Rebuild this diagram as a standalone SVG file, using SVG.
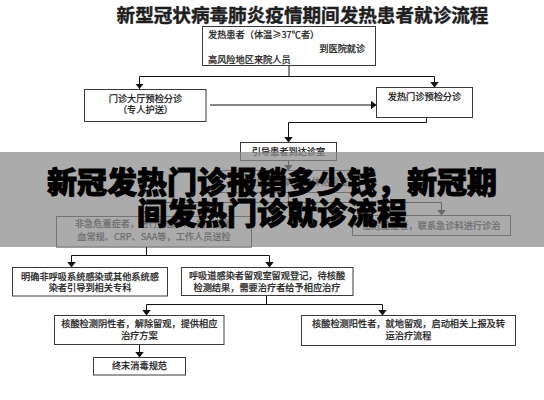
<svg xmlns="http://www.w3.org/2000/svg" width="544" height="400" viewBox="0 0 544 400">
<style>
.bx{fill:#fff;stroke:#3a3a3a;stroke-width:1}
.t{font-family:"Noto Sans CJK SC","Noto Sans",sans-serif;font-size:9.2px;fill:#1a1a1a;stroke:#1a1a1a;stroke-width:0.25}
.c{text-anchor:middle}
.ln{stroke:#111;stroke-width:1;fill:none}
.ar{stroke:#111;stroke-width:1;fill:none;marker-end:url(#ah)}
.title{font-family:"Noto Sans CJK SC","Noto Sans",sans-serif;font-size:18.6px;font-weight:bold;fill:#1e1e1e;stroke:#1e1e1e;stroke-width:0.4;text-anchor:middle}
.big{font-family:"Noto Sans CJK SC","Noto Sans",sans-serif;font-size:30px;font-weight:900;fill:#000;stroke:#000;stroke-width:0.9;text-anchor:middle}
</style>
<defs>
<marker id="ah" viewBox="0 0 10 10" refX="10" refY="5" markerWidth="5.5" markerHeight="8.5" markerUnits="userSpaceOnUse" orient="auto" preserveAspectRatio="none">
<path d="M0,0 L10,5 L0,10 z" fill="#111"/>
</marker>
</defs>
<rect width="544" height="400" fill="#fff"/>
<text class="title" x="302.5" y="22">新型冠状病毒肺炎疫情期间发热患者就诊流程</text>

<g id="connectors">
<path class="ln" d="M289,66 V76.5 M139.5,76.5 H434.5"/>
<path class="ar" d="M139.5,76.5 V89"/>
<path class="ar" d="M434.5,76.5 V87.5"/>
<path class="ar" d="M210,105 H376.5"/>
<path class="ar" d="M426.5,117.5 V122.5 H288.5 V142.5"/>
<path class="ar" d="M288.5,160.5 V170.5"/>
<path class="ln" d="M288.5,192.5 V202.5 M146.5,202.5 H441.5"/>
<path class="ar" d="M146.5,202.5 V216.5"/>
<path class="ar" d="M441.5,202.5 V215.5"/>
<path class="ln" d="M146.5,247 V255.5 M71.5,255.5 H269.5"/>
<path class="ar" d="M71.5,255.5 V267.5"/>
<path class="ar" d="M269.5,255.5 V267.5"/>
<path class="ln" d="M266.5,295.5 V304.5 M146.5,304.5 H382.5"/>
<path class="ar" d="M146.5,304.5 V315.5"/>
<path class="ar" d="M382.5,304.5 V315.5"/>
<path class="ar" d="M139.5,344.5 V357.5"/>
</g>

<g id="n-start">
<rect class="bx" x="202.5" y="26.5" width="173" height="39"/>
<text class="t" x="208" y="38.4">发热患者（体温≥37℃者）</text>
<text class="t" x="319.3" y="51.7">到医院就诊</text>
<text class="t" x="208" y="63.4">高风险地区来院人员</text>
</g>
<g id="n-hall">
<rect class="bx" x="84.5" y="89.5" width="121.5" height="32"/>
<text class="t c" x="145.5" y="101.7">门诊大厅预检分诊</text>
<text class="t c" x="145.5" y="113">（专人护送）</text>
</g>
<g id="n-fever">
<rect class="bx" x="376.5" y="87.5" width="96" height="30"/>
<text class="t c" x="424.5" y="99.6">发热门诊预检分诊</text>
</g>
<g id="n-guide">
<rect class="bx" x="240.5" y="142.5" width="96" height="18"/>
<text class="t c" x="288.5" y="155">引导患者到达诊室</text>
</g>
<g id="n-exam">
<rect class="bx" x="218.5" y="170.5" width="140" height="22"/>
<text class="t c" x="288.5" y="185">接诊医生询问病史、体格检查</text>
</g>
<g id="n-nonurgent">
<rect class="bx" x="56.5" y="216.5" width="195" height="30.5"/>
<text class="t c" x="154" y="227">非急危重症者，进行胸部CT、抽血化验</text>
<text class="t c" x="154" y="239.5">血常规、CRP、SAA等，工作人员送检</text>
</g>
<g id="n-urgent">
<rect class="bx" x="352.5" y="215.5" width="158" height="20"/>
<text class="t c" x="431.5" y="228.5">急危重症者，联系急诊科进行诊治</text>
</g>

<rect id="overlay" x="0" y="152" width="544" height="95" fill="#8a8a8a" opacity="0.72"/>
<text class="big" x="272" y="192.5">新冠发热门诊报销多少钱，新冠期</text>
<text class="big" x="272" y="223.5">间发热门诊就诊流程</text>

<g id="n-other">
<rect class="bx" x="12.5" y="267.5" width="155" height="28.5"/>
<text class="t c" x="90" y="279.5">明确非呼吸系统感染或其他系统感</text>
<text class="t c" x="90" y="291">染者引导到相关专科</text>
</g>
<g id="n-observe">
<rect class="bx" x="181.5" y="267.5" width="171.5" height="28"/>
<text class="t c" x="267" y="279.3">呼吸道感染者留观室留观登记，待核酸</text>
<text class="t c" x="267" y="291.3">检测结果，需要治疗者给予相应治疗</text>
</g>
<g id="n-negative">
<rect class="bx" x="54.5" y="315.5" width="169.5" height="29"/>
<text class="t c" x="139.3" y="326.8">核酸检测阴性者，解除留观，提供相应</text>
<text class="t c" x="139.3" y="339.4">治疗方案</text>
</g>
<g id="n-positive">
<rect class="bx" x="301.5" y="315.5" width="214" height="30"/>
<text class="t c" x="408.5" y="326.8">核酸检测阳性者，就地留观，启动相关上报及转</text>
<text class="t c" x="408.5" y="339.4">运治疗流程</text>
</g>
<g id="n-disinfect">
<rect class="bx" x="93.5" y="357.5" width="92" height="17.5"/>
<text class="t c" x="139.5" y="369.3">终末消毒规范</text>
</g>
</svg>
